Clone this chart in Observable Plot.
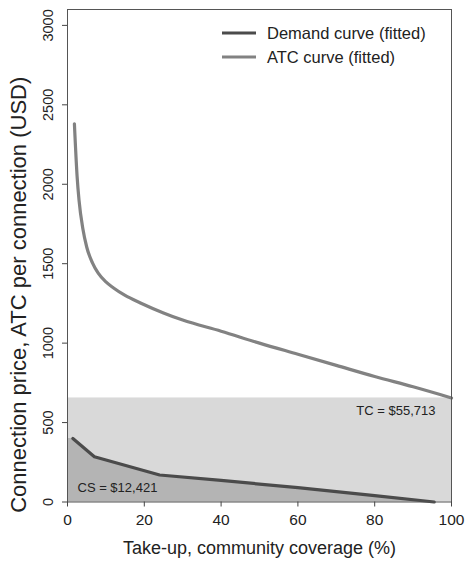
<!DOCTYPE html>
<html>
<head>
<meta charset="utf-8">
<script src="https://cdn.jsdelivr.net/npm/d3@7"></script>
<script src="https://cdn.jsdelivr.net/npm/@observablehq/plot@0.6"></script>
<style>
  html, body { margin: 0; padding: 0; background: #fff; }
  #wrap { position: relative; width: 467px; height: 562px; font-family: "Liberation Sans", Arial, Helvetica, sans-serif; }
  #legend { position: absolute; left: 218px; top: 21px; }
</style>
</head>
<body>
<div id="wrap">
  <div id="chart"></div>
  <svg id="legend" width="240" height="56"></svg>
</div>
<script>
// ---- data ----
const atcCoverage = [1.8, 2.5, 3, 4, 5, 6.5, 8, 10, 12, 15, 19, 25, 30, 40, 50, 60, 70, 80, 90, 100];
const atcValues   = [2380, 2050, 1900, 1720, 1605, 1505, 1440, 1385, 1347, 1300, 1253, 1190, 1145, 1075, 1000, 930, 860, 790, 725, 655];

const demandCoverage = [1.4, 7, 24, 40, 60, 80, 95.5];
const demandValues   = [400, 285, 170, 136, 90, 40, 0];

const xTicks = [0, 20, 40, 60, 80, 100];
const yTicks = [0, 500, 1000, 1500, 2000, 2500, 3000];

const seriesNames = ["Demand curve (fitted)", "ATC curve (fitted)"];
const tcLabel = "TC = $55,713";
const csLabel = "CS = $12,421";
const xTitle = "Take-up, community coverage (%)";
const yTitle = "Connection price, ATC per connection (USD)";

// ---- build tables ----
const atc = atcCoverage.map((x, i) => ({x, y: atcValues[i]}));
const demand = demandCoverage.map((x, i) => ({x, y: demandValues[i]}));
// consumer-surplus area: demand curve extended to the axis at its first price
const csArea = [{x: 0, y: demandValues[0]}, ...demand];
const tcRect = [{x1: 0, x2: atcCoverage[atcCoverage.length - 1], y1: 0, y2: atcValues[atcValues.length - 1]}];

const colDemand = "#4b4b4b";
const colATC = "#828282";

const chart = Plot.plot({
  width: 467,
  height: 562,
  marginLeft: 67,
  marginRight: 16,
  marginTop: 9,
  marginBottom: 60.5,
  x: {domain: [0, 100]},
  y: {domain: [0, 3100]},
  style: {fontFamily: "'Liberation Sans', Arial, Helvetica, sans-serif", background: "white", color: "#222"},
  marks: [
    Plot.rect(tcRect, {x1: "x1", x2: "x2", y1: "y1", y2: "y2", fill: "#d9d9d9"}),
    Plot.areaY(csArea, {x: "x", y: "y", fill: "#b4b4b4"}),
    Plot.line(demand, {x: "x", y: "y", stroke: colDemand, strokeWidth: 3.2}),
    Plot.line(atc, {x: "x", y: "y", stroke: colATC, strokeWidth: 3.2, curve: "monotone-x"}),
    Plot.frame({stroke: "#555", strokeWidth: 1}),
    Plot.axisX({ticks: xTicks, tickSize: 5, tickPadding: 7, fontSize: 15.5, label: null, stroke: "#444"}),
    Plot.axisY({ticks: yTicks, tickSize: 5, tickFormat: () => "", label: null, stroke: "#444"}),
    Plot.text(yTicks, {frameAnchor: "left", textAnchor: "middle", y: d => d, text: d => String(d), rotate: -90, dx: -19, fontSize: 14.5, fill: "#222"}),
    Plot.text([yTitle], {frameAnchor: "left", textAnchor: "middle", rotate: -90, dx: -49, dy: 39, fontSize: 22, fill: "#222"}),
    Plot.text([xTitle], {frameAnchor: "bottom", dy: 52, fontSize: 18, fill: "#222"}),
    Plot.text([tcLabel], {frameAnchor: "bottom-right", textAnchor: "end", dx: -16, dy: -87, fontSize: 13, fill: "#222"}),
    Plot.text([csLabel], {frameAnchor: "bottom-left", textAnchor: "start", dx: 10, dy: -10, fontSize: 13, fill: "#222"})
  ]
});
document.getElementById("chart").appendChild(chart);

// ---- legend ----
const legend = d3.select("#legend");
const rows = legend.selectAll("g").data(seriesNames).join("g")
  .attr("transform", (d, i) => `translate(0, ${12 + i * 24})`);
rows.append("line").attr("x1", 4).attr("x2", 38).attr("y1", 0).attr("y2", 0)
  .attr("stroke", (d, i) => i === 0 ? colDemand : colATC).attr("stroke-width", 3.2);
rows.append("text").attr("x", 49).attr("y", 0).attr("dy", "0.35em")
  .attr("font-size", 16.5).attr("fill", "#222")
  .attr("font-family", "'Liberation Sans', Arial, Helvetica, sans-serif")
  .text(d => d);
</script>
</body>
</html>
